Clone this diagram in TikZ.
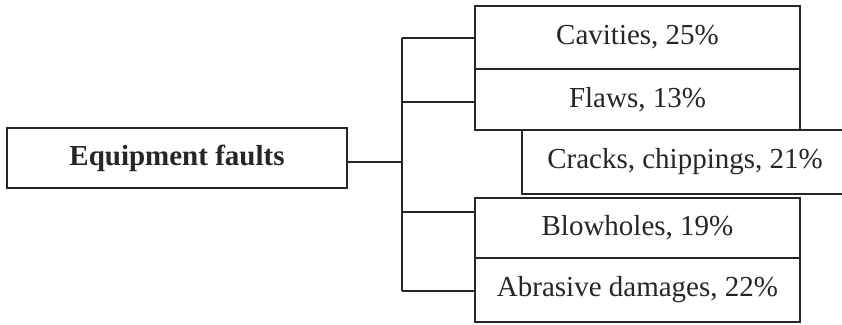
\documentclass[tikz,border=0pt]{standalone}
\usepackage{fontspec}
\setmainfont{Liberation Serif}
\begin{document}
\begin{tikzpicture}[x=1pt,y=-1pt,
  box/.style={draw=black!85,line width=1.6pt,inner sep=0pt,anchor=center,
    font=\fontsize{29}{34}\selectfont,text=black!85},
  conn/.style={draw=black!85,line width=1.6pt}]
\clip (0,0) rectangle (842,324);
\fill[white] (0,0) rectangle (842,324);
\node[box,minimum width=340pt,minimum height=60pt] (eq) at (177,158) {\textbf{Equipment faults}};
\node[box,minimum width=325pt,minimum height=63pt] (cav) at (637.5,37.5) {Cavities, 25\%};
\node[box,minimum width=325pt,minimum height=61pt] (flaws) at (637.5,99.5) {Flaws, 13\%};
\node[box,minimum width=326pt,minimum height=64pt] (cracks) at (685,162) {Cracks, chippings, 21\%};
\node[box,minimum width=325pt,minimum height=60pt] (blow) at (637.5,228) {Blowholes, 19\%};
\node[box,minimum width=325pt,minimum height=64pt] (abr) at (637.5,290) {Abrasive damages, 22\%};
\coordinate (t1) at (402,38);
\coordinate (t2) at (402,102);
\coordinate (t3) at (402,162);
\coordinate (t4) at (402,212);
\coordinate (t5) at (402,291);
\draw[conn] (t1) -- (t5);
\draw[conn] (t1) -- (t1 -| cav.west);
\draw[conn] (t2) -- (t2 -| flaws.west);
\draw[conn] (t4) -- (t4 -| blow.west);
\draw[conn] (t5) -- (t5 -| abr.west);
\draw[conn] (eq.east |- t3) -- (t3);
\end{tikzpicture}
\end{document}
